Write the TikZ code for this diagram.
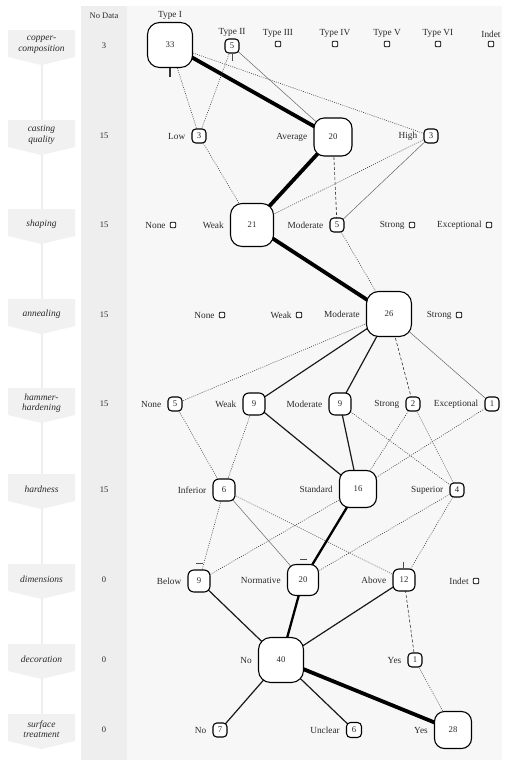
\documentclass[tikz,border=0pt]{standalone}
\usepackage{fontspec}
\setmainfont{Liberation Serif}
\pgfdeclarelayer{panel}
\pgfdeclarelayer{edges}
\pgfsetlayers{panel,edges,main}
\definecolor{panelgray}{HTML}{F7F7F7}
\definecolor{colgray}{HTML}{EEEEEE}
\definecolor{chevgray}{HTML}{F1F1F1}
\definecolor{txt}{HTML}{2A2A2A}
\newcommand\cnode[6]{%
  \node[cnt, minimum size=#4, rounded corners=#4*0.27] (#1) at (#2,#3) {#5};
  \node[lab, anchor=east] (#1l) at ([xshift=-6pt]#1.west) {#6};}
\newcommand\enode[4]{%
  \node[emp] (#1) at (#2,#3) {};
  \node[lab, anchor=east] (#1l) at ([xshift=-4pt]#1.west) {#4};}
\newcommand\tnode[6]{%
  \node[cnt, minimum size=#4, rounded corners=#4*0.27] (#1) at (#2,#3) {#5};
  \node[lab, anchor=south] (#1l) at ([yshift=2pt]#1.north) {#6};}
\newcommand\tenode[4]{%
  \node[emp] (#1) at (#2,#3) {};
  \node[lab, anchor=south] (#1l) at ([yshift=3pt]#1.north) {#4};}
\newcommand\chev[3]{%
  \fill[chevgray] (8,#2-16) -- (75,#2-16) -- (75,#2+11) -- (41.5,#2+19) -- (8,#2+11) -- cycle;
  \node[rowlab] (#1) at (41.5,#2-1) {#3};}
\begin{document}
\begin{tikzpicture}[x=1pt,y=-1pt,
  font=\fontsize{9.3}{11}\selectfont,
  cnt/.style={draw=black, fill=white, line width=1.1pt, inner sep=0pt, text=txt, font=\fontsize{8.7}{10}\selectfont},
  emp/.style={draw=black, fill=white, line width=0.9pt, inner sep=0pt, minimum size=5.5pt, rounded corners=1pt},
  lab/.style={inner sep=0pt, text=txt},
  rowlab/.style={font=\fontsize{9.5}{10.5}\selectfont\itshape, align=center, text=txt, inner sep=0pt},
  nd/.style={font=\fontsize{8.5}{10}\selectfont, text=txt, inner sep=0pt},
  vthick/.style={line width=3.8pt, black},
  thicker/.style={line width=2.3pt, black},
  med/.style={line width=1.2pt, black!90},
  thin/.style={line width=0.5pt, black!60},
  dot/.style={line width=0.6pt, black!75, dash pattern=on 0.9pt off 1.3pt},
  dsh/.style={line width=0.6pt, black!80, dash pattern=on 3pt off 2pt}]
\useasboundingbox (0,0) rectangle (505,763);
\begin{pgfonlayer}{panel}
\fill[white] (0,0) rectangle (505,763);
\fill[panelgray] (127,6) rectangle (502,760);
\fill[colgray] (81,6) rectangle (127,760);
\draw[line width=2pt, colgray] (41.5,50) -- (41.5,725);
\end{pgfonlayer}
\begin{pgfonlayer}{panel}
\chev{r1}{46}{copper-\\composition}
\chev{r2}{136}{casting\\quality}
\chev{r3}{225}{shaping}
\chev{r4}{315}{annealing}
\chev{r5}{404}{hammer-\\hardening}
\chev{r6}{490}{hardness}
\chev{r7}{580}{dimensions}
\chev{r8}{660}{decoration}
\chev{r9}{730}{surface\\treatment}
\end{pgfonlayer}
% No Data column
\node[nd] (ndh) at (104,16) {No Data};
\node[nd] (nd1) at (104,46) {3};
\node[nd] (nd2) at (104,136) {15};
\node[nd] (nd3) at (104,225) {15};
\node[nd] (nd4) at (104,315) {15};
\node[nd] (nd5) at (104,404) {15};
\node[nd] (nd6) at (104,490) {15};
\node[nd] (nd7) at (104,580) {0};
\node[nd] (nd8) at (104,660) {0};
\node[nd] (nd9) at (104,730) {0};
% Row 1
\tnode{t1}{170}{45}{45}{33}{Type I}
\tnode{t2}{232}{46}{14}{5}{Type II}
\tenode{t3}{278}{44}{Type III}
\tenode{t4}{335}{44}{Type IV}
\tenode{t5}{387}{44}{Type V}
\tenode{t6}{438}{44}{Type VI}
\tenode{t7}{491}{44}{Indet}
% Row 2
\cnode{lo}{199}{136}{14}{3}{Low}
\cnode{av}{333}{137}{38}{20}{Average}
\cnode{hi}{431}{136}{14}{3}{High}
% Row 3
\enode{s0}{173}{225}{None}
\cnode{s1}{252}{225}{43}{21}{Weak}
\cnode{s2}{337}{225}{14}{5}{Moderate}
\enode{s3}{412}{225}{Strong}
\enode{s4}{489}{225}{Exceptional}
% Row 4
\enode{a0}{222}{315}{None}
\enode{a1}{299}{315}{Weak}
\cnode{a2}{389}{314}{45}{26}{Moderate}
\enode{a3}{459}{315}{Strong}
% Row 5
\cnode{h0}{175}{404}{14}{5}{None}
\cnode{h1}{254}{404}{22}{9}{Weak}
\cnode{h2}{340}{404}{22}{9}{Moderate}
\cnode{h3}{413}{404}{14}{2}{Strong}
\cnode{h4}{492}{404}{14}{1}{Exceptional}
% Row 6
\cnode{d0}{224}{490}{22}{6}{Inferior}
\cnode{d1}{358}{489}{37}{16}{Standard}
\cnode{d2}{457}{490}{14}{4}{Superior}
% Row 7
\cnode{m0}{199}{581}{22}{9}{Below}
\cnode{m1}{303}{580}{31}{20}{Normative}
\cnode{m2}{404}{580}{22}{12}{Above}
\enode{m3}{476}{581}{Indet}
% Row 8
\cnode{c0}{281}{660}{45}{40}{No}
\cnode{c1}{415}{660}{14}{1}{Yes}
% Row 9
\cnode{f0}{220}{730}{14}{7}{No}
\cnode{f1}{354}{730}{15}{6}{Unclear}
\cnode{f2}{453}{730}{37}{28}{Yes}
\begin{pgfonlayer}{edges}
\draw[vthick] (t1.center) -- (av.center);
\draw[dot] (t1.center) -- (lo.center);
\draw[dot] (t1.center) -- (hi.center);
\draw[dot] (t2.center) -- (lo.center);
\draw[thin] (t2.center) -- (av.center);
\draw[dot] (lo.center) -- (s1.center);
\draw[vthick] (av.center) -- (s1.center);
\draw[dsh] (av.center) -- (s2.center);
\draw[dot] (hi.center) -- (s1.center);
\draw[thin] (hi.center) -- (s2.center);
\draw[vthick] (s1.center) -- (a2.center);
\draw[dot] (s2.center) -- (a2.center);
\draw[dot] (a2.center) -- (h0.center);
\draw[med] (a2.center) -- (h1.center);
\draw[med] (a2.center) -- (h2.center);
\draw[dsh] (a2.center) -- (h3.center);
\draw[thin] (a2.center) -- (h4.center);
\draw[dot] (h0.center) -- (d0.center);
\draw[dot] (h1.center) -- (d0.center);
\draw[med] (h1.center) -- (d1.center);
\draw[med] (h2.center) -- (d1.center);
\draw[dot] (h2.center) -- (d2.center);
\draw[dot] (h3.center) -- (d1.center);
\draw[dot] (h3.center) -- (d2.center);
\draw[dot] (h4.center) -- (d1.center);
\draw[dot] (d0.center) -- (m0.center);
\draw[thin] (d0.center) -- (m1.center);
\draw[dot] (d0.center) -- (m2.center);
\draw[dot] (d1.center) -- (m0.center);
\draw[thicker] (d1.center) -- (m1.center);
\draw[dot] (d2.center) -- (m1.center);
\draw[dot] (d2.center) -- (m2.center);
\draw[med] (m0.center) -- (c0.center);
\draw[thicker] (m1.center) -- (c0.center);
\draw[med] (m2.center) -- (c0.center);
\draw[dsh] (m2.center) -- (c1.center);
\draw[med] (c0.center) -- (f0.center);
\draw[med] (c0.center) -- (f1.center);
\draw[vthick] (c0.center) -- (f2.center);
\draw[dot] (c1.center) -- (f2.center);
\end{pgfonlayer}
% small tick marks
\draw[line width=1.2pt, black!80] (170,68) -- (170,77);
\draw[line width=0.8pt, black!70] (232,54) -- (232,61);
\draw[line width=0.6pt, black!70] (196,563) -- (203,563);
\draw[line width=0.6pt, black!70] (300,559) -- (307,559);
\draw[line width=0.6pt, black!70] (403,562) -- (403,568);
\end{tikzpicture}
\end{document}
